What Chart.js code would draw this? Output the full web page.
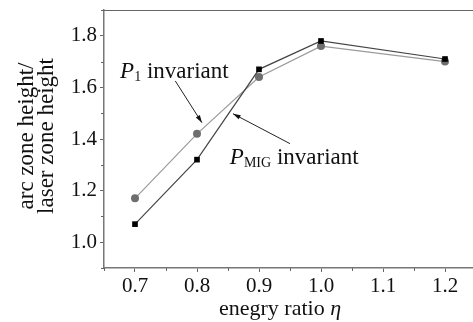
<!DOCTYPE html>
<html>
<head>
  <title>arc zone height / laser zone height vs energy ratio</title>
  <script src="https://cdn.jsdelivr.net/npm/chart.js"></script>
  <style>
    html, body { margin: 0; padding: 0; background: #fff; overflow: hidden; }
    canvas { display: block; }
  </style>
</head>
<body>
  <canvas id="ratioChart" width="480" height="322"></canvas>

  <script>
    // values
    const eta = [0.7, 0.8, 0.9, 1.0, 1.2];
    const p1Invariant = [1.17, 1.42, 1.64, 1.76, 1.70];
    const pMigInvariant = [1.07, 1.32, 1.67, 1.78, 1.71];
    const xTicks = [0.7, 0.8, 0.9, 1.0, 1.1, 1.2];
    const yTicks = [1.0, 1.2, 1.4, 1.6, 1.8];
    const xMinor = [0.65, 0.75, 0.85, 0.95, 1.05, 1.15, 1.25];
    const yMinor = [0.9, 1.1, 1.3, 1.5, 1.7, 1.9];

    const serif = '"Liberation Serif", "Times New Roman", serif';

    // annotation anchors, in data units
    const p1Label = { x: 0.676, y: 1.637, sub: '1', from: [0.765, 1.625], to: [0.808, 1.463] };
    const migLabel = { x: 0.853, y: 1.305, sub: 'MIG', from: [0.950, 1.382], to: [0.858, 1.498] };

    function drawArrow(ctx, x1, y1, x2, y2) {
      const a = Math.atan2(y2 - y1, x2 - x1);
      ctx.beginPath();
      ctx.moveTo(x1, y1);
      ctx.lineTo(x2, y2);
      ctx.stroke();
      ctx.beginPath();
      ctx.moveTo(x2, y2);
      ctx.lineTo(x2 - 8 * Math.cos(a - 0.3), y2 - 8 * Math.sin(a - 0.3));
      ctx.lineTo(x2 - 8 * Math.cos(a + 0.3), y2 - 8 * Math.sin(a + 0.3));
      ctx.closePath();
      ctx.fill();
    }

    function drawLabel(ctx, xs, ys, lab) {
      const x = xs.getPixelForValue(lab.x);
      const y = ys.getPixelForValue(lab.y);
      ctx.textBaseline = 'alphabetic';
      ctx.textAlign = 'left';
      ctx.font = 'italic 23px ' + serif;
      ctx.fillText('P', x, y);
      let w = ctx.measureText('P').width;
      ctx.font = '14px ' + serif;
      ctx.fillText(lab.sub, x + w, y + 3);
      w += ctx.measureText(lab.sub).width;
      ctx.font = '23px ' + serif;
      ctx.fillText(' invariant', x + w, y);
      drawArrow(ctx,
        xs.getPixelForValue(lab.from[0]), ys.getPixelForValue(lab.from[1]),
        xs.getPixelForValue(lab.to[0]), ys.getPixelForValue(lab.to[1]));
    }

    const extras = {
      id: 'extras',
      afterDraw(chart) {
        const ctx = chart.ctx;
        const xs = chart.scales.x, ys = chart.scales.y;
        const area = chart.chartArea;
        ctx.save();
        ctx.strokeStyle = '#666';
        ctx.fillStyle = '#111';
        ctx.lineWidth = 1;

        // top frame line
        ctx.beginPath();
        ctx.moveTo(area.left, area.top + 0.5);
        ctx.lineTo(area.right, area.top + 0.5);
        ctx.stroke();

        // minor ticks
        ctx.beginPath();
        xMinor.forEach(v => {
          const px = Math.round(xs.getPixelForValue(v)) + 0.5;
          ctx.moveTo(px, area.bottom);
          ctx.lineTo(px, area.bottom + 3);
        });
        yMinor.forEach(v => {
          const py = Math.round(ys.getPixelForValue(v)) + 0.5;
          ctx.moveTo(area.left - 3, py);
          ctx.lineTo(area.left, py);
        });
        ctx.stroke();

        // annotations
        ctx.strokeStyle = '#222';
        drawLabel(ctx, xs, ys, p1Label);
        drawLabel(ctx, xs, ys, migLabel);

        // axis titles
        ctx.fillStyle = '#111';
        ctx.textAlign = 'center';
        ctx.textBaseline = 'alphabetic';
        ctx.font = '23px ' + serif;
        const cy = (area.top + area.bottom) / 2 - 3;
        ctx.save();
        ctx.translate(33, cy);
        ctx.rotate(-Math.PI / 2);
        ctx.fillText('arc zone height/', 0, 0);
        ctx.restore();
        ctx.save();
        ctx.translate(53, cy);
        ctx.rotate(-Math.PI / 2);
        ctx.fillText('laser zone height', 0, 0);
        ctx.restore();

        ctx.textAlign = 'left';
        const t1 = 'enegry ratio ';
        ctx.font = 'italic 22px ' + serif;
        const wEta = ctx.measureText('\u03b7').width;
        ctx.font = '22px ' + serif;
        const w1 = ctx.measureText(t1).width;
        const x0 = 280 - (w1 + wEta) / 2;
        ctx.fillText(t1, x0, 315);
        ctx.font = 'italic 22px ' + serif;
        ctx.fillText('\u03b7', x0 + w1, 315);
        ctx.restore();
      }
    };

    const ctx = document.getElementById('ratioChart').getContext('2d');
    new Chart(ctx, {
      type: 'line',
      data: {
        datasets: [
          {
            label: 'P_MIG invariant',
            data: eta.map((x, i) => ({ x: x, y: pMigInvariant[i] })),
            borderColor: '#444',
            borderWidth: 1.2,
            pointStyle: 'rect',
            pointRadius: 4,
            pointBackgroundColor: '#000',
            pointBorderColor: '#000',
            pointBorderWidth: 0,
            tension: 0
          },
          {
            label: 'P_1 invariant',
            data: eta.map((x, i) => ({ x: x, y: p1Invariant[i] })),
            borderColor: '#9a9a9a',
            borderWidth: 1.2,
            pointStyle: 'circle',
            pointRadius: 4,
            pointBackgroundColor: '#6e6e6e',
            pointBorderColor: '#6e6e6e',
            pointBorderWidth: 0,
            tension: 0
          }
        ]
      },
      options: {
        responsive: false,
        animation: false,
        layout: { padding: { left: 0, right: 4, top: 10, bottom: 0 } },
        plugins: { legend: { display: false }, tooltip: { enabled: false } },
        scales: {
          x: {
            type: 'linear',
            min: 0.65,
            max: 1.25,
            afterBuildTicks: s => { s.ticks = xTicks.map(v => ({ value: v })); },
            afterFit: s => { s.height = 54; s.paddingLeft = 0; s.paddingRight = 0; },
            grid: { drawOnChartArea: false, tickLength: 4, color: '#666' },
            border: { color: '#777', width: 1.5 },
            ticks: {
              padding: 2,
              color: '#111',
              font: { family: serif, size: 21 },
              callback: v => v.toFixed(1)
            }
          },
          y: {
            min: 0.9,
            max: 1.9,
            afterBuildTicks: s => { s.ticks = yTicks.map(v => ({ value: v })); },
            afterFit: s => { s.width = 104; s.paddingTop = 0; s.paddingBottom = 0; },
            grid: { drawOnChartArea: false, tickLength: 4, color: '#666' },
            border: { color: '#777', width: 1.5 },
            ticks: {
              padding: 3,
              color: '#111',
              font: { family: serif, size: 21 },
              callback: v => v.toFixed(1)
            }
          }
        }
      },
      plugins: [extras]
    });
  </script>
</body>
</html>
